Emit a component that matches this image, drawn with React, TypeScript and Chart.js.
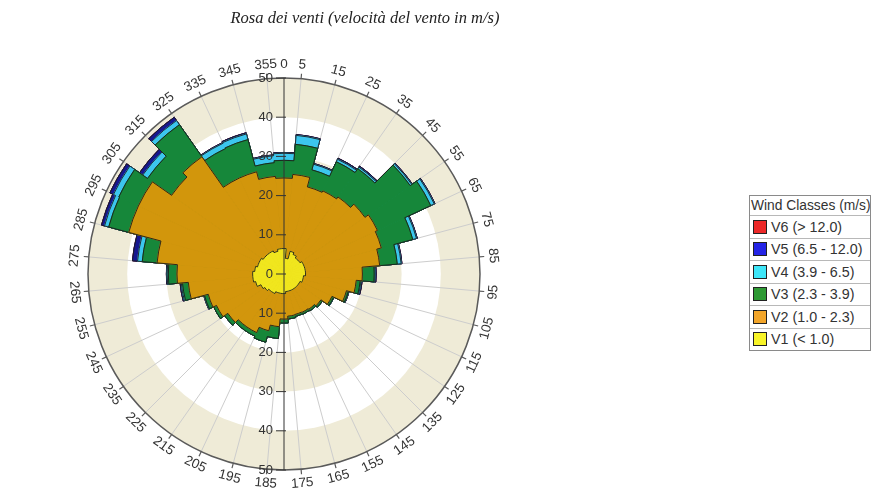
import { useEffect, useRef } from 'react';
import { Chart, registerables } from 'chart.js';

Chart.register(...registerables);

// Sector centres (compass degrees), each sector 10° wide
const directions = [0, 10, 20, 30, 40, 50, 60, 70, 80, 90, 100, 110, 120, 130, 140, 150, 160, 170,
  180, 190, 200, 210, 220, 230, 240, 250, 260, 270, 280, 290, 300, 310, 320, 330, 340, 350];

// Wind class contributions per sector
const v1 = [6.5, 4, 6, 5.5, 5, 5, 5.5, 5.5, 5.5, 5.5, 5, 5, 4.5, 4.5, 4.5, 4.5, 4.5, 4.5,
  5, 5, 5, 5.5, 5.5, 6, 6.5, 7.5, 8, 8, 7.5, 7, 7, 6.5, 6.5, 6.5, 6, 6.5];
const v2 = [18, 21.5, 17, 17.9, 19, 20.2, 20.8, 20.2, 19, 14.5, 13.5, 11.5, 9, 7, 6.5, 6.3, 6.2, 6.3,
  6.5, 8.5, 10, 11, 11, 11.5, 12.5, 12.5, 16.5, 19.3, 25, 34, 34, 28.5, 30, 20.5, 21, 18.5];
const v3 = [4.5, 7.7, 4.5, 8.2, 8.8, 14.1, 15, 8.3, 4.5, 3, 1, 0.5, 0.5, 0.5, 0.5, 0.5, 0.5, 0.7,
  1, 3, 3, 1, 1, 1, 0.8, 1, 1.5, 2.2, 3.8, 5.3, 5.5, 7.5, 10, 8.3, 8.5, 3.5];
const v4 = [1.8, 2.3, 1.5, 0.7, 0.5, 0.5, 1, 1, 1, 0.2, 0.2, 0.1, 0.1, 0, 0, 0, 0, 0,
  0, 0, 0, 0, 0, 0, 0, 0.1, 0.3, 0.3, 1.2, 1.1, 1.5, 1.5, 1.3, 1.5, 1.5, 1.8];
const v5 = [0.2, 0.2, 0.2, 0.3, 0.3, 0.2, 0.2, 0.2, 0.2, 0.3, 0.3, 0.1, 0, 0, 0, 0, 0, 0,
  0, 0, 0, 0, 0, 0, 0, 0.1, 0.3, 0.2, 1.3, 0.8, 1, 1, 1, 0.2, 0.3, 0.2];
const v6 = [0, 0, 0, 0, 0, 0, 0, 0, 0, 0, 0, 0, 0, 0, 0, 0, 0, 0,
  0, 0, 0, 0, 0, 0, 0, 0, 0, 0, 0, 0, 0, 0, 0, 0, 0, 0];

const classLabels = ['V1 (< 1.0)', 'V2 (1.0 - 2.3)', 'V3 (2.3 - 3.9)', 'V4 (3.9 - 6.5)', 'V5 (6.5 - 12.0)', 'V6 (> 12.0)'];
const chartColors = ['#F0E61E', '#D2960C', '#16873A', '#3CC6EE', '#17178F', '#E02020'];
const legendColors = ['#F8F428', '#F2A52A', '#2E9A34', '#3EE6F8', '#2424E6', '#EC2828'];

// Angular tick labels at sector boundaries
const angleLabels = ['0', '5', '15', '25', '35', '45', '55', '65', '75', '85', '95', '105', '115', '125',
  '135', '145', '155', '165', '175', '185', '195', '205', '215', '225', '235', '245', '255', '265',
  '275', '285', '295', '305', '315', '325', '335', '345', '355'];
const radialTicks = [0, 10, 20, 30, 40, 50];

const FONT = "'Liberation Sans', Arial, sans-serif";
const BEIGE = '#EFEBD7';

const bandsPlugin = {
  id: 'bands',
  beforeDraw(chart: any) {
    const s = chart.scales.r;
    const ctx = chart.ctx;
    ctx.save();
    const desc = [...radialTicks].reverse();
    desc.forEach((v, i) => {
      if (v === 0) return;
      ctx.beginPath();
      ctx.arc(s.xCenter, s.yCenter, s.getDistanceFromCenterForValue(v), 0, Math.PI * 2);
      ctx.fillStyle = i % 2 === 0 ? BEIGE : '#FFFFFF';
      ctx.fill();
    });
    ctx.restore();
  },
};

const outlinePlugin = {
  id: 'outline',
  afterDatasetDraw(chart: any, args: any) {
    const ctx = chart.ctx;
    const meta = args.meta;
    ctx.save();
    ctx.beginPath();
    meta.data.forEach((el: any) => {
      const p = el.getProps(['x', 'y', 'startAngle', 'endAngle', 'outerRadius'], true);
      ctx.arc(p.x, p.y, Math.max(p.outerRadius, 0), p.startAngle, p.endAngle);
    });
    ctx.closePath();
    ctx.strokeStyle = '#1c1c1c';
    ctx.lineWidth = 0.9;
    ctx.stroke();
    ctx.restore();
  },
};

const axesPlugin = {
  id: 'axes',
  afterDraw(chart: any) {
    const s = chart.scales.r;
    const ctx = chart.ctx;
    const cx = s.xCenter;
    const cy = s.yCenter;
    const R = s.drawingArea;
    ctx.save();
    // outer circle
    ctx.beginPath();
    ctx.arc(cx, cy, R, 0, Math.PI * 2);
    ctx.strokeStyle = '#5a5a5a';
    ctx.lineWidth = 1.5;
    ctx.stroke();
    // angular ticks and labels
    ctx.font = `13.5px ${FONT}`;
    ctx.fillStyle = '#333';
    ctx.textAlign = 'center';
    ctx.textBaseline = 'middle';
    angleLabels.forEach((lab) => {
      const deg = Number(lab);
      const a = ((deg - 90) * Math.PI) / 180;
      if (deg !== 0) {
        ctx.beginPath();
        ctx.moveTo(cx + R * Math.cos(a), cy + R * Math.sin(a));
        ctx.lineTo(cx + (R + 5) * Math.cos(a), cy + (R + 5) * Math.sin(a));
        ctx.strokeStyle = '#5a5a5a';
        ctx.lineWidth = 1.2;
        ctx.stroke();
      }
      const off = R + 14;
      const x = cx + off * Math.cos(a);
      const y = cy + off * Math.sin(a);
      const rot = deg > 90 && deg < 270 ? deg - 180 : deg;
      ctx.save();
      ctx.translate(x, y);
      ctx.rotate((rot * Math.PI) / 180);
      ctx.fillText(lab, 0, 0);
      ctx.restore();
    });
    // vertical axis
    ctx.beginPath();
    ctx.moveTo(cx, cy - R);
    ctx.lineTo(cx, cy + R);
    ctx.strokeStyle = '#333';
    ctx.lineWidth = 1;
    ctx.stroke();
    ctx.font = `13px ${FONT}`;
    ctx.textAlign = 'right';
    radialTicks.forEach((v) => {
      const d = s.getDistanceFromCenterForValue(v);
      const ys = v === 0 ? [cy] : [cy - d, cy + d];
      ys.forEach((y) => {
        ctx.beginPath();
        ctx.moveTo(cx - 8, y);
        ctx.lineTo(cx + 2, y);
        ctx.strokeStyle = '#333';
        ctx.lineWidth = 1;
        ctx.stroke();
        ctx.fillText(String(v), cx - 11, y);
      });
    });
    ctx.restore();
  },
};

export default function App() {
  const ref = useRef<HTMLCanvasElement>(null);

  useEffect(() => {
    const canvas = ref.current;
    if (!canvas) return;
    const series = [v1, v2, v3, v4, v5, v6];
    const stacked = series.map((_, k) =>
      directions.map((__, i) => {
        let sum = 0;
        for (let j = 0; j <= k; j++) sum += series[j][i];
        return Math.round(sum * 100) / 100;
      })
    );
    const chart = new Chart(canvas, {
      type: 'polarArea',
      data: {
        labels: directions.map(String),
        datasets: classLabels.map((label, k) => ({
          label,
          data: stacked[k],
          backgroundColor: chartColors[k],
          borderColor: chartColors[k],
          borderWidth: 1,
        })),
      },
      options: {
        responsive: false,
        animation: false,
        layout: { padding: { left: 88, right: 410, top: 78, bottom: 25 } },
        plugins: {
          legend: { display: false },
          tooltip: { enabled: false },
          title: { display: false },
        },
        scales: {
          r: {
            min: 0,
            max: 50,
            startAngle: -5,
            ticks: { display: false, stepSize: 10 },
            grid: { display: false },
            angleLines: { display: true, color: '#CDCDCD', lineWidth: 1 },
            pointLabels: { display: false },
          },
        },
      } as any,
      plugins: [bandsPlugin, outlinePlugin, axesPlugin],
    });
    return () => chart.destroy();
  }, []);

  const legendOrder = [5, 4, 3, 2, 1, 0];

  return (
    <div style={{ position: 'absolute', left: 0, top: 0, width: 890, height: 495, background: '#fff' }}>
      <canvas ref={ref} width={890} height={495} style={{ position: 'absolute', left: 0, top: 0 }} />
      <div
        style={{
          position: 'absolute', left: 0, top: 9, width: 730, textAlign: 'center',
          fontFamily: "'Liberation Serif', 'Times New Roman', serif", fontStyle: 'italic',
          fontSize: 16.5, color: '#222', lineHeight: '18px',
        }}
      >
        Rosa dei venti (velocità del vento in m/s)
      </div>
      <div
        style={{
          position: 'absolute', left: 749, top: 195, width: 122, boxSizing: 'border-box',
          border: '1px solid #8a8a8a', background: '#fff', fontFamily: FONT, color: '#333',
        }}
      >
        <div style={{ height: 19, lineHeight: '19px', fontSize: 13.8, paddingLeft: 1, whiteSpace: 'nowrap', overflow: 'hidden' }}>
          Wind Classes (m/s)
        </div>
        {legendOrder.map((k) => (
          <div
            key={k}
            style={{
              height: 22.5, boxSizing: 'border-box', borderTop: '1px solid #b8b8b8',
              display: 'flex', alignItems: 'center', fontSize: 14.3, whiteSpace: 'nowrap',
            }}
          >
            <span
              style={{
                display: 'inline-block', width: 14, height: 14, marginLeft: 3, marginRight: 4,
                background: legendColors[k], border: '1px solid #222', boxSizing: 'border-box',
              }}
            />
            {classLabels[k]}
          </div>
        ))}
      </div>
    </div>
  );
}
